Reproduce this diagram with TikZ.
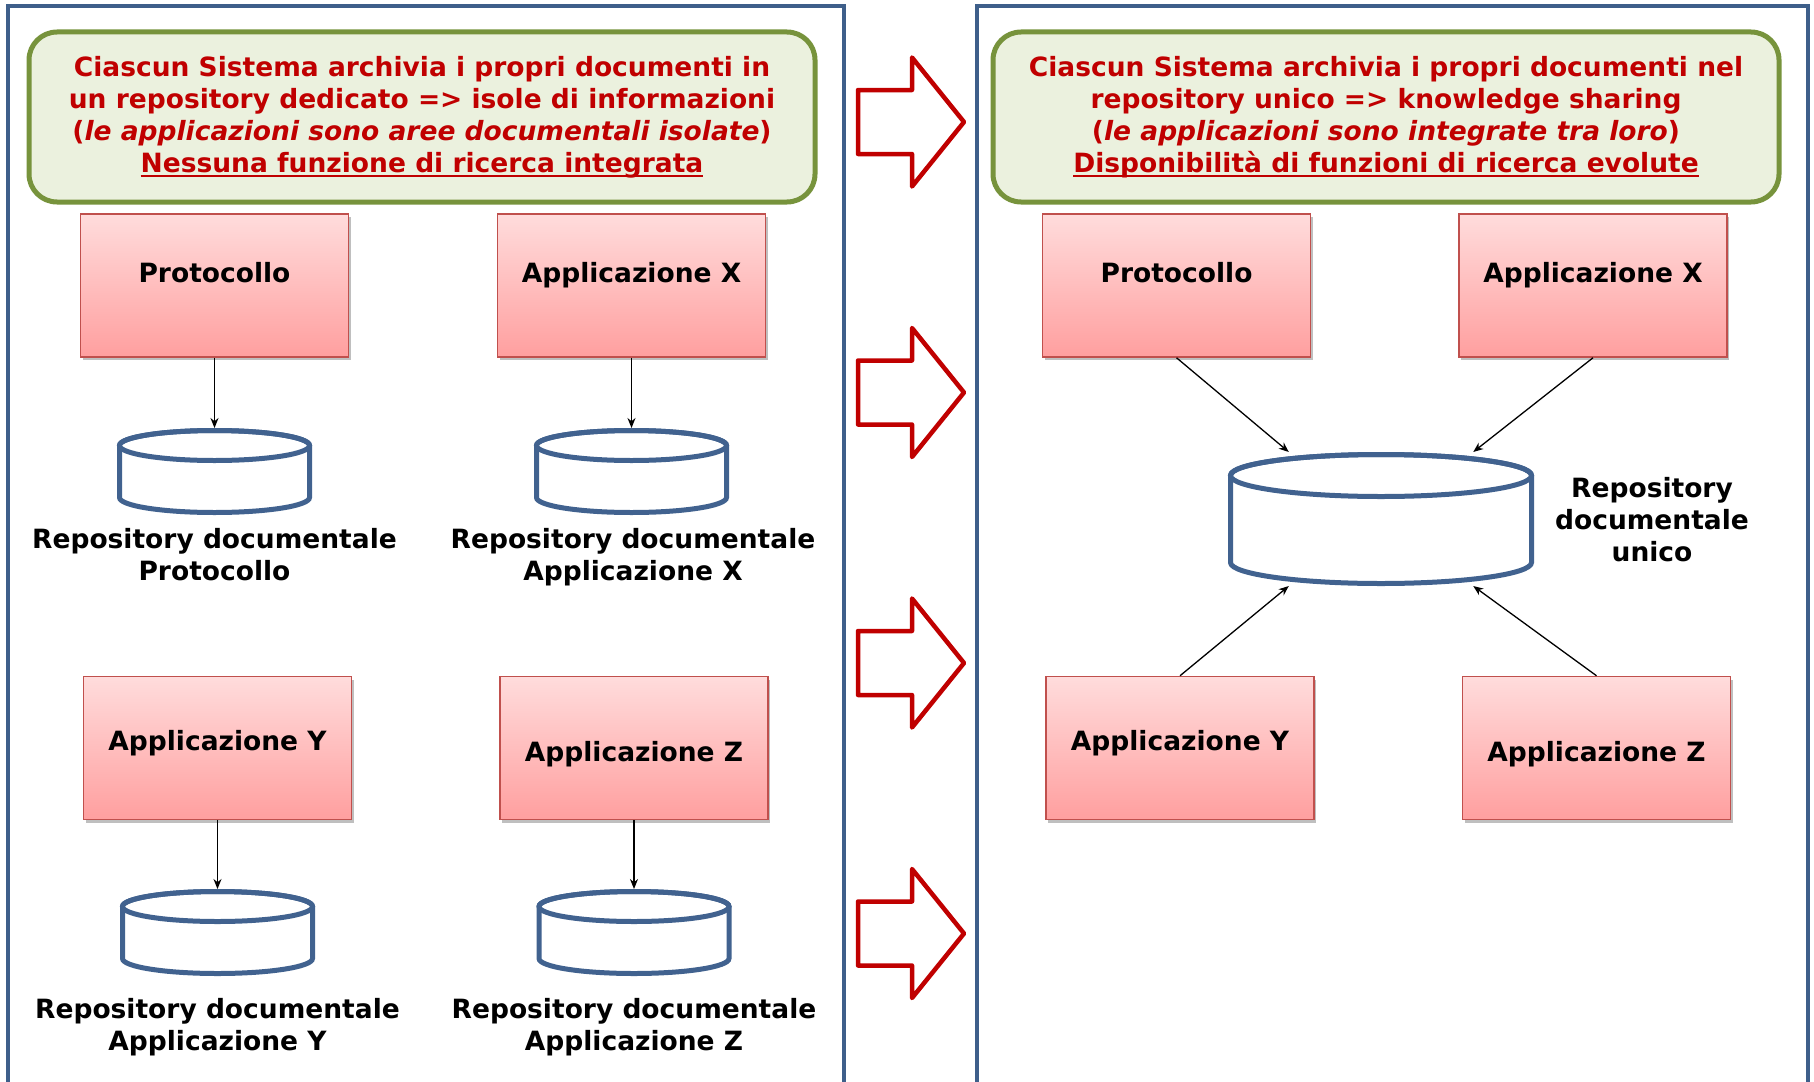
\documentclass[tikz,border=0pt]{standalone}
\usepackage{fontspec}
\setmainfont{DejaVu Sans}
\usetikzlibrary{shadows,arrows.meta}
\definecolor{panelblue}{HTML}{3E5F8A}
\definecolor{dbblue}{HTML}{41628F}
\definecolor{notefill}{HTML}{EBF1DE}
\definecolor{notedraw}{HTML}{77933C}
\definecolor{darkred}{HTML}{C00000}
\definecolor{boxtop}{HTML}{FFDCDC}
\definecolor{boxbot}{HTML}{FF9F9F}
\definecolor{boxdraw}{HTML}{C0504D}
\newcommand\bigbf{\fontsize{26.5pt}{32pt}\selectfont\bfseries}
\newsavebox\ulbox
\newcommand\redul[1]{\sbox\ulbox{#1}\rlap{\rule[-5pt]{\wd\ulbox}{2.5pt}}\usebox\ulbox}
\tikzset{
  panel/.style={draw=panelblue, line width=4.5pt},
  note/.style={rectangle, rounded corners=28pt, draw=notedraw, fill=notefill, line width=5pt,
    minimum width=786pt, minimum height=170pt, align=center, text=darkred, font=\bigbf},
  appbox/.style={rectangle, draw=boxdraw, line width=1.5pt, top color=boxtop, bottom color=boxbot,
    minimum width=268pt, minimum height=143pt, inner sep=0pt, font=\bigbf,
    drop shadow={shadow xshift=2pt, shadow yshift=-3pt, opacity=.5}},
  row1/.style={text height=19pt, text depth=25pt},
  row2/.style={text height=24pt, text depth=20pt},
  row3/.style={text height=40pt, text depth=13pt},
  repobox/.style={rectangle, draw=none, inner sep=0pt, outer sep=2.5pt},
  dbline/.style={draw=dbblue, line width=5pt},
  lbl/.style={align=center, font=\bigbf},
  link/.style={->, line width=1.3pt},
  bigarrow/.style={draw=darkred, line width=4.5pt, fill=white, line join=round},
}
\begin{document}
\begin{tikzpicture}[x=1pt, y=-1pt, >={Stealth[length=10pt,width=8pt]}]
\useasboundingbox (0,0) rectangle (1814,1081);
% panels
\draw[panel] (8,1090) -- (8,6) -- (844,6) -- (844,1090);
\draw[panel] (977,1090) -- (977,6) -- (1808,6) -- (1808,1090);
% notes
\node[note] (lnote) at (422,117) {Ciascun Sistema archivia i propri documenti in\\
un repository dedicato => isole di informazioni\\
(\textit{le applicazioni sono aree documentali isolate})\\
\redul{Nessuna funzione di ricerca integrata}};
\node[note] (rnote) at (1386,117) {Ciascun Sistema archivia i propri documenti nel\\
repository unico => knowledge sharing\\
(\textit{le applicazioni sono integrate tra loro})\\
\redul{Disponibilità di funzioni di ricerca evolute}};
% big arrows
\foreach \y in {122,392.5,663,933.5}
{
    \draw[bigarrow] (858,\y-32) -- (912,\y-32) -- (912,\y-64.5) -- (964,\y)
        -- (912,\y+64.5) -- (912,\y+32) -- (858,\y+32) -- cycle;
}
% left side
\node[appbox, row1] (lp) at (214.5,285.5) {Protocollo};
\node[appbox, row1] (lx) at (631.5,285.5) {Applicazione X};
\node[appbox, row2] (ly) at (217.5,748) {Applicazione Y};
\node[appbox, row3] (lz) at (634,748) {Applicazione Z};
\foreach \n/\x/\y in {lcp/214.5/471.5, lcx/631.5/471.5, lcy/217.5/932.5, lcz/634/932.5}
{
    \node[repobox, minimum width=190pt, minimum height=82pt] (\n) at (\x,\y) {};
    \draw[dbline, fill=white] (\x-95,\y-26) -- (\x-95,\y+26)
        arc[start angle=180, end angle=360, x radius=95pt, y radius=15pt]
        -- (\x+95,\y-26) arc[start angle=0, end angle=180, x radius=95pt, y radius=15pt];
    \draw[dbline] (\x,\y-26) ellipse[x radius=95pt, y radius=15pt];
}
\node[lbl, anchor=north] (llp) at (214.5,525) {Repository documentale\\Protocollo};
\node[lbl, anchor=north] (llx) at (633,525) {Repository documentale\\Applicazione X};
\node[lbl, anchor=north] (lly) at (217.5,995) {Repository documentale\\Applicazione Y};
\node[lbl, anchor=north] (llz) at (634,995) {Repository documentale\\Applicazione Z};
\foreach \a/\b in {lp/lcp,lx/lcx,ly/lcy,lz/lcz}
{
    \draw[link] (\a) -- (\b);
}
% right side
\node[appbox, row1] (rp) at (1176.5,285.5) {Protocollo};
\node[appbox, row1] (rx) at (1593,285.5) {Applicazione X};
\node[appbox, row2] (ry) at (1180,748) {Applicazione Y};
\node[appbox, row3] (rz) at (1596.5,748) {Applicazione Z};
\node[repobox, minimum width=301pt, minimum height=129pt] (cu) at (1381,519) {};
\draw[dbline, fill=white] (1381-150.5,519-43.5) -- (1381-150.5,519+43.5)
    arc[start angle=180, end angle=360, x radius=150.5pt, y radius=21pt]
    -- (1381+150.5,519-43.5) arc[start angle=0, end angle=180, x radius=150.5pt, y radius=21pt];
\draw[dbline] (1381,519-43.5) ellipse[x radius=150.5pt, y radius=21pt];
\node[lbl] (lcu) at (1652,520) {Repository\\documentale\\unico};
\draw[link] (rp.south) -- (cu.144);
\draw[link] (rx.south) -- (cu.36);
\draw[link] (ry.north) -- (cu.216);
\draw[link] (rz.north) -- (cu.-36);
\end{tikzpicture}
\end{document}
